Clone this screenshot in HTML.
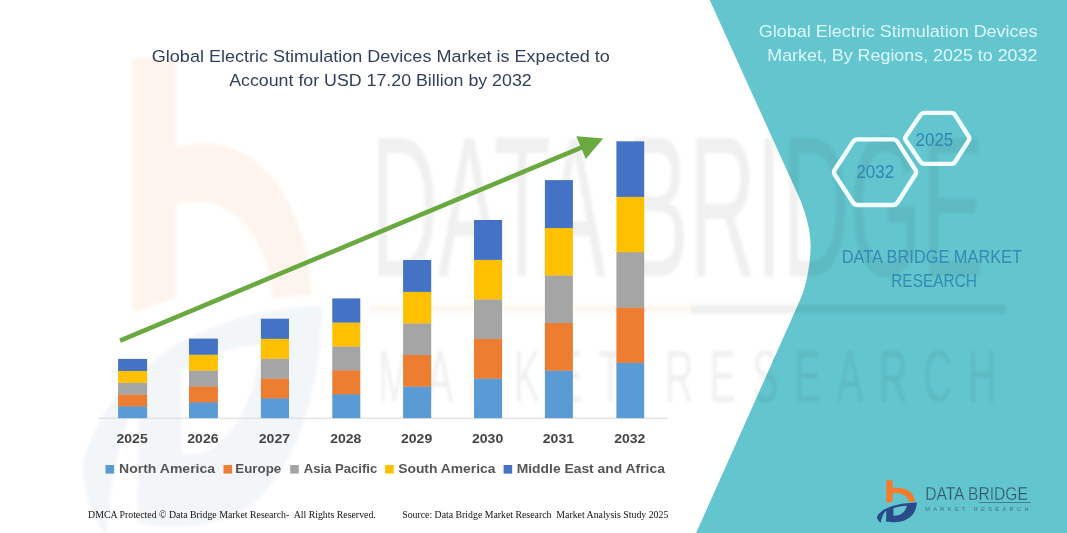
<!DOCTYPE html>
<html lang="en"><head><meta charset="utf-8">
<title>Global Electric Stimulation Devices Market</title>
<style>
html,body{margin:0;padding:0;background:#fff;}
body{width:1067px;height:533px;overflow:hidden;position:relative;}
svg{display:block;position:absolute;left:0;top:0;}
text{font-family:"Liberation Sans",sans-serif;}
.serif{font-family:"Liberation Serif",serif;}
</style></head><body>
<svg width="1067" height="533" viewBox="0 0 1067 533">
<defs>
<g id="logoicon">
<path id="logoO" fill="#f47b2a" d="M9.4,0 L15.7,0 L15.7,8 C24,6.5 36.5,9 38.3,21.2 L31.7,21.5 C30.8,15 23.5,12 15.7,13.1 L15.7,21.5 L9.4,22.6 Z"/>
<path id="logoN" fill="#2b4a8b" d="M0,36.5 C4,28 20,22.5 40,22.2 C39.5,30 36,37 27,40.5 C20,42.5 12,42 9.2,41.6 L9.4,30.5 C7,32.5 5.2,35.5 3.8,42.6 C1.5,41 0.3,39 0,36.5 Z M16.5,28 L16.5,35.5 C22.5,35.9 28,33 30,25.6 C25,25.8 20.5,26.6 16.5,28 Z"/>
</g>
<g id="logotext">
<text x="48.1" y="19.5" font-size="18" textLength="102.4" lengthAdjust="spacingAndGlyphs">DATA BRIDGE</text>
<rect x="101.5" y="22.1" width="52.6" height="0.8"/>
<text x="49.3" y="30.85" font-size="6.6" textLength="103.3" lengthAdjust="spacing">MARKET RESEARCH</text>
</g>
<filter id="wmblur" x="-5%" y="-5%" width="110%" height="110%"><feGaussianBlur stdDeviation="0.25 0.13"/></filter>
</defs>
<rect width="1067" height="533" fill="#ffffff"/>
<g filter="url(#wmblur)" transform="translate(82.6,58.2) scale(5.99,11.16)">
<use href="#logoO" opacity="0.085"/>
<rect x="8.25" y="0" width="1.2" height="22.7" fill="#f47b2a" opacity="0.085"/>
<use href="#logoN" opacity="0.05"/>
<rect x="48" y="22.1" width="53.5" height="0.7" fill="#f47b2a" opacity="0.06"/>
<use href="#logotext" fill="#222" opacity="0.058"/>
</g>
<path fill="#63c5cd" d="M709.7,0 L799,197 C805.3,211 810.6,230 810.6,245 C810.6,262 806.8,285 800.1,300 L696.1,533 L1067,533 L1067,0 Z"/>
<clipPath id="tealclip"><path d="M709.7,0 L799,197 C805.3,211 810.6,230 810.6,245 C810.6,262 806.8,285 800.1,300 L696.1,533 L1067,533 L1067,0 Z"/></clipPath>
<g clip-path="url(#tealclip)"><g opacity="0.05" filter="url(#wmblur)" transform="translate(82.6,58.2) scale(5.99,11.16)"><use href="#logotext" fill="#000"/></g></g>
<rect x="98" y="417.7" width="570" height="1" fill="#d9d9d9"/>
<rect x="118.1" y="406.10" width="29.0" height="12.10" fill="#5b9bd5"/>
<rect x="118.1" y="394.30" width="29.0" height="12.10" fill="#ed7d31"/>
<rect x="118.1" y="382.50" width="29.0" height="12.10" fill="#a5a5a5"/>
<rect x="118.1" y="370.70" width="29.0" height="12.10" fill="#ffc000"/>
<rect x="118.1" y="358.90" width="29.0" height="12.10" fill="#4472c4"/>
<rect x="189.0" y="402.04" width="28.9" height="16.16" fill="#5b9bd5"/>
<rect x="189.0" y="386.18" width="28.9" height="16.16" fill="#ed7d31"/>
<rect x="189.0" y="370.32" width="28.9" height="16.16" fill="#a5a5a5"/>
<rect x="189.0" y="354.46" width="28.9" height="16.16" fill="#ffc000"/>
<rect x="189.0" y="338.60" width="28.9" height="16.16" fill="#4472c4"/>
<rect x="260.9" y="398.06" width="28.1" height="20.14" fill="#5b9bd5"/>
<rect x="260.9" y="378.22" width="28.1" height="20.14" fill="#ed7d31"/>
<rect x="260.9" y="358.38" width="28.1" height="20.14" fill="#a5a5a5"/>
<rect x="260.9" y="338.54" width="28.1" height="20.14" fill="#ffc000"/>
<rect x="260.9" y="318.70" width="28.1" height="20.14" fill="#4472c4"/>
<rect x="332.3" y="394.00" width="28.0" height="24.20" fill="#5b9bd5"/>
<rect x="332.3" y="370.10" width="28.0" height="24.20" fill="#ed7d31"/>
<rect x="332.3" y="346.20" width="28.0" height="24.20" fill="#a5a5a5"/>
<rect x="332.3" y="322.30" width="28.0" height="24.20" fill="#ffc000"/>
<rect x="332.3" y="298.40" width="28.0" height="24.20" fill="#4472c4"/>
<rect x="403.1" y="386.32" width="28.1" height="31.88" fill="#5b9bd5"/>
<rect x="403.1" y="354.74" width="28.1" height="31.88" fill="#ed7d31"/>
<rect x="403.1" y="323.16" width="28.1" height="31.88" fill="#a5a5a5"/>
<rect x="403.1" y="291.58" width="28.1" height="31.88" fill="#ffc000"/>
<rect x="403.1" y="260.00" width="28.1" height="31.88" fill="#4472c4"/>
<rect x="474.0" y="378.32" width="28.1" height="39.88" fill="#5b9bd5"/>
<rect x="474.0" y="338.74" width="28.1" height="39.88" fill="#ed7d31"/>
<rect x="474.0" y="299.16" width="28.1" height="39.88" fill="#a5a5a5"/>
<rect x="474.0" y="259.58" width="28.1" height="39.88" fill="#ffc000"/>
<rect x="474.0" y="220.00" width="28.1" height="39.88" fill="#4472c4"/>
<rect x="544.9" y="370.34" width="28.0" height="47.86" fill="#5b9bd5"/>
<rect x="544.9" y="322.78" width="28.0" height="47.86" fill="#ed7d31"/>
<rect x="544.9" y="275.22" width="28.0" height="47.86" fill="#a5a5a5"/>
<rect x="544.9" y="227.66" width="28.0" height="47.86" fill="#ffc000"/>
<rect x="544.9" y="180.10" width="28.0" height="47.86" fill="#4472c4"/>
<rect x="616.4" y="362.58" width="27.8" height="55.62" fill="#5b9bd5"/>
<rect x="616.4" y="307.26" width="27.8" height="55.62" fill="#ed7d31"/>
<rect x="616.4" y="251.94" width="27.8" height="55.62" fill="#a5a5a5"/>
<rect x="616.4" y="196.62" width="27.8" height="55.62" fill="#ffc000"/>
<rect x="616.4" y="141.30" width="27.8" height="55.62" fill="#4472c4"/>
<text x="132.1" y="443.2" font-size="13.6" font-weight="bold" fill="#444" text-anchor="middle" textLength="31.2" lengthAdjust="spacingAndGlyphs">2025</text>
<text x="202.9" y="443.2" font-size="13.6" font-weight="bold" fill="#444" text-anchor="middle" textLength="31.2" lengthAdjust="spacingAndGlyphs">2026</text>
<text x="274.4" y="443.2" font-size="13.6" font-weight="bold" fill="#444" text-anchor="middle" textLength="31.2" lengthAdjust="spacingAndGlyphs">2027</text>
<text x="345.8" y="443.2" font-size="13.6" font-weight="bold" fill="#444" text-anchor="middle" textLength="31.2" lengthAdjust="spacingAndGlyphs">2028</text>
<text x="416.6" y="443.2" font-size="13.6" font-weight="bold" fill="#444" text-anchor="middle" textLength="31.2" lengthAdjust="spacingAndGlyphs">2029</text>
<text x="487.6" y="443.2" font-size="13.6" font-weight="bold" fill="#444" text-anchor="middle" textLength="31.2" lengthAdjust="spacingAndGlyphs">2030</text>
<text x="558.4" y="443.2" font-size="13.6" font-weight="bold" fill="#444" text-anchor="middle" textLength="31.2" lengthAdjust="spacingAndGlyphs">2031</text>
<text x="629.8" y="443.2" font-size="13.6" font-weight="bold" fill="#444" text-anchor="middle" textLength="31.2" lengthAdjust="spacingAndGlyphs">2032</text>
<rect x="105.5" y="465" width="8.6" height="8.6" fill="#5b9bd5"/>
<text x="119.0" y="472.9" font-size="13.2" font-weight="bold" fill="#555" textLength="96.1" lengthAdjust="spacingAndGlyphs">North America</text>
<rect x="223.5" y="465" width="8.6" height="8.6" fill="#ed7d31"/>
<text x="235.3" y="472.9" font-size="13.2" font-weight="bold" fill="#555" textLength="45.9" lengthAdjust="spacingAndGlyphs">Europe</text>
<rect x="290.2" y="465" width="8.6" height="8.6" fill="#a5a5a5"/>
<text x="303.7" y="472.9" font-size="13.2" font-weight="bold" fill="#555" textLength="73.6" lengthAdjust="spacingAndGlyphs">Asia Pacific</text>
<rect x="385.1" y="465" width="8.6" height="8.6" fill="#ffc000"/>
<text x="398.2" y="472.9" font-size="13.2" font-weight="bold" fill="#555" textLength="97.3" lengthAdjust="spacingAndGlyphs">South America</text>
<rect x="503.6" y="465" width="8.6" height="8.6" fill="#4472c4"/>
<text x="516.7" y="472.9" font-size="13.2" font-weight="bold" fill="#555" textLength="148.2" lengthAdjust="spacingAndGlyphs">Middle East and Africa</text>
<line x1="120.1" y1="340.6" x2="582.9" y2="146.9" stroke="#6aa93f" stroke-width="4.6"/>
<polygon fill="#6aa93f" points="603.2,138.4 585.8,159.0 576.3,136.3"/>
<text x="151.8" y="61.6" font-size="17.2" fill="#313f5a" textLength="458" lengthAdjust="spacingAndGlyphs">Global Electric Stimulation Devices Market is Expected to</text>
<text x="229.2" y="85.8" font-size="17.2" fill="#313f5a" textLength="302.5" lengthAdjust="spacingAndGlyphs">Account for USD 17.20 Billion by 2032</text>
<text x="758.8" y="37.3" font-size="16.6" fill="#dcf9fd" textLength="278.8" lengthAdjust="spacingAndGlyphs">Global Electric Stimulation Devices</text>
<text x="767.3" y="60.6" font-size="16.6" fill="#dcf9fd" textLength="270.1" lengthAdjust="spacingAndGlyphs">Market, By Regions, 2025 to 2032</text>
<g fill="none" stroke="#f2fdff" stroke-width="4.4" stroke-linejoin="round">
<path d="M834.8,174.7 Q833.2,172.2 834.8,169.7 L853.0,141.9 Q854.6,139.4 857.6,139.4 L892.9,139.4 Q895.9,139.4 897.5,141.9 L915.3,169.7 Q916.9,172.2 915.3,174.7 L897.5,202.5 Q895.9,205.0 892.9,205.0 L857.6,205.0 Q854.6,205.0 853.0,202.5 Z"/>
<path d="M905.9,140.5 Q904.4,138.4 905.9,136.3 L920.5,115.0 Q922.0,112.9 924.6,112.9 L951.1,112.9 Q953.7,112.9 955.1,115.1 L968.6,136.2 Q970.0,138.4 968.6,140.6 L955.1,161.7 Q953.7,163.9 951.1,163.9 L924.6,163.9 Q922.0,163.9 920.5,161.8 Z"/>
</g>
<text x="875.3" y="178.2" font-size="18" fill="#2f86b4" text-anchor="middle" textLength="37.8" lengthAdjust="spacingAndGlyphs">2032</text>
<text x="934.4" y="145.6" font-size="18" fill="#2f86b4" text-anchor="middle" textLength="37.6" lengthAdjust="spacingAndGlyphs">2025</text>
<text x="841.8" y="262.6" font-size="18" fill="#348ab4" textLength="180.2" lengthAdjust="spacingAndGlyphs">DATA BRIDGE MARKET</text>
<text x="891.2" y="286.6" font-size="18" fill="#348ab4" textLength="85.8" lengthAdjust="spacingAndGlyphs">RESEARCH</text>
<text class="serif" x="88.1" y="518.1" font-size="9.6" fill="#111" textLength="287.7" lengthAdjust="spacingAndGlyphs" xml:space="preserve">DMCA Protected © Data Bridge Market Research-  All Rights Reserved.</text>
<text class="serif" x="402.2" y="518.1" font-size="9.6" fill="#111" textLength="266.1" lengthAdjust="spacingAndGlyphs" xml:space="preserve">Source: Data Bridge Market Research  Market Analysis Study 2025</text>
<g transform="translate(876.9,480.2)">
<use href="#logoicon"/>
<text x="48.3" y="19.6" font-size="18.4" fill="#2f566b" stroke="#63c5cd" stroke-width="0.3" textLength="102.6" lengthAdjust="spacingAndGlyphs">DATA BRIDGE</text>
<rect x="101.7" y="22.0" width="52.2" height="0.8" fill="#3d6c86"/>
<text x="48.3" y="30.9" font-size="5.6" fill="#3d5f74" fill-opacity="0.8" textLength="103.3" lengthAdjust="spacing">MARKET RESEARCH</text>
</g>
</svg>
</body></html>
